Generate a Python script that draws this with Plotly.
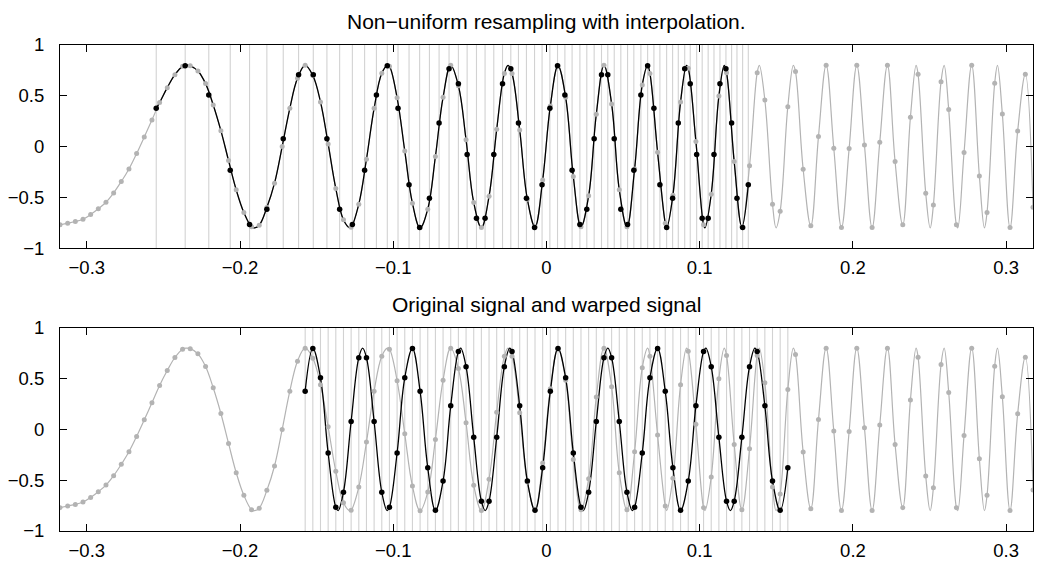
import plotly.graph_objects as go

# ---------------- data ----------------
amp = 0.8                      # peak amplitude of both signals

# original (gray) signal, uniformly sampled
gray_t_start = -0.3175
gray_t_step = 0.005
gray_vals = [
    -0.770, -0.754, -0.738, -0.715, -0.669, -0.613, -0.548, -0.456, -0.344, -0.220,
    -0.069, 0.095, 0.262, 0.433, 0.580, 0.708, 0.790, 0.795, 0.744, 0.620,
    0.410, 0.157, -0.138, -0.426, -0.649, -0.790, -0.775, -0.600, -0.360, 0.000,
    0.377, 0.672, 0.800, 0.700, 0.440, 0.026, -0.413, -0.721, -0.795, -0.567,
    -0.125, 0.377, 0.721, 0.790, 0.480, -0.043, -0.557, -0.800, -0.616, -0.098,
    0.485, 0.800, 0.600, 0.066, -0.550, -0.797, -0.490, 0.170, 0.720, 0.720,
    0.164, -0.518, -0.790, -0.330, 0.400, 0.795, 0.485, -0.295, -0.790, -0.485,
    0.318, 0.800, 0.420, -0.426, -0.790, -0.220, 0.607, 0.720, -0.056, -0.754,
    -0.480, 0.440, 0.770, 0.050, -0.770, -0.469, 0.498, 0.728, -0.148, -0.790,
    -0.190, 0.728, 0.459, -0.567, -0.636, 0.393, 0.738, -0.223, -0.780, 0.098,
    0.800, -0.016, -0.797, -0.020, 0.800, 0.016, -0.797, 0.043, 0.800, -0.148,
    -0.770, 0.289, 0.711, -0.459, -0.574, 0.639, 0.364, -0.770, -0.059, 0.800,
    -0.289, -0.649, 0.623, 0.321, -0.797, 0.154, 0.711, -0.597,
]
# positions of the maxima / minima of the gray curve
gray_peaks_t = [-0.2352, -0.1579, -0.1039, -0.0625, -0.0251, 0.0072, 0.0374, 0.0660,
                0.0914, 0.1160, 0.1389, 0.1611, 0.1824, 0.2025, 0.2225, 0.2412,
                0.2595, 0.2776, 0.2943, 0.3118]
gray_troughs_t = [-0.1905, -0.1285, -0.0828, -0.0429, -0.0081, 0.0226, 0.0522, 0.0784,
                  0.1034, 0.1280, 0.1498, 0.1720, 0.1922, 0.2125, 0.2323, 0.2504,
                  0.2684, 0.2858, 0.3026]

# non-uniform resampling instants (top panel vertical lines)
resample_t = [
    -0.2547, -0.2358, -0.2204, -0.2064, -0.1938, -0.1825, -0.1718, -0.1618, -0.1522, -0.1433,
    -0.1350, -0.1267, -0.1187, -0.1110, -0.1039, -0.0969, -0.0897, -0.0828, -0.0764, -0.0701,
    -0.0636, -0.0575, -0.0518, -0.0457, -0.0401, -0.0344, -0.0287, -0.0233, -0.0183, -0.0131,
    -0.0078, -0.0029, 0.0022, 0.0072, 0.0120, 0.0167, 0.0218, 0.0263, 0.0311, 0.0359,
    0.0400, 0.0442, 0.0485, 0.0529, 0.0570, 0.0616, 0.0660, 0.0701, 0.0740, 0.0784,
    0.0823, 0.0860, 0.0902, 0.0938, 0.0980, 0.1016, 0.1055, 0.1093, 0.1132, 0.1171,
    0.1208, 0.1243, 0.1280, 0.1317,
]
# resampled values (same values in both panels)
warped_vals = [
    0.377, 0.796, 0.508, -0.232, -0.766, -0.618, 0.078, 0.706, 0.706, 0.078,
    -0.618, -0.766, -0.232, 0.508, 0.796, 0.377, -0.377, -0.796, -0.508, 0.232,
    0.766, 0.618, -0.078, -0.706, -0.706, -0.078, 0.618, 0.766, 0.232, -0.508,
    -0.796, -0.377,
    0.377, 0.796, 0.508, -0.232, -0.766, -0.618, 0.078, 0.706, 0.706, 0.078,
    -0.618, -0.766, -0.232, 0.508, 0.796, 0.377, -0.377, -0.796, -0.508, 0.232,
    0.766, 0.618, -0.078, -0.706, -0.706, -0.078, 0.618, 0.766, 0.232, -0.508,
    -0.796, -0.377,
]
# warped signal (bottom panel) is uniformly placed
warped_t_start = -0.1575
warped_t_step = 0.005
warped_peaks_t = [-0.152, -0.120, -0.088, -0.056, -0.024, 0.008, 0.040, 0.072, 0.104, 0.136]
warped_troughs_t = [-0.136, -0.104, -0.072, -0.040, -0.008, 0.024, 0.056, 0.088, 0.120, 0.152]

titles = ["Non\u2212uniform resampling with interpolation.", "Original signal and warped signal"]
x_ticks = [-0.3, -0.2, -0.1, 0, 0.1, 0.2, 0.3]
x_ticktext = ["\u22120.3", "\u22120.2", "\u22120.1", "0", "0.1", "0.2", "0.3"]
y_ticks = [-1, -0.5, 0, 0.5, 1]
y_ticktext = ["\u22121", "\u22120.5", "0", "0.5", "1"]
x_range = [-0.3175, 0.3175]
y_range = [-1, 1]

# ---------------- styles ----------------
GRAY = "#b3b3b3"
VLINE = "#d2d2d2"
BLACK = "#000000"
FONT = "Liberation Sans, Arial, Helvetica, sans-serif"
FS_TICK = 18.5
FS_TITLE = 21


def merge(xs, ys, ext_x, ext_y, tol=0.0008):
    pts = list(zip(xs, ys))
    for ex, ey in zip(ext_x, ext_y):
        if min(abs(ex - x) for x in xs) > tol:
            pts.append((ex, ey))
    pts.sort()
    return [p[0] for p in pts], [p[1] for p in pts]


gray_t = [round(gray_t_start + i * gray_t_step, 5) for i in range(len(gray_vals))]
warped_t = [round(warped_t_start + i * warped_t_step, 5) for i in range(len(warped_vals))]

ext_gx = gray_peaks_t + gray_troughs_t
ext_gy = [amp] * len(gray_peaks_t) + [-amp] * len(gray_troughs_t)
gcx, gcy = merge(gray_t, gray_vals, ext_gx, ext_gy)

# top black (interpolated) curve: follows the original between first and last resample
t0, t1 = resample_t[0], resample_t[-1]
inner = [(x, y) for x, y in zip(gcx, gcy) if t0 + 0.0008 < x < t1 - 0.0008]
bcx = [t0] + [p[0] for p in inner] + [t1]
bcy = [warped_vals[0]] + [p[1] for p in inner] + [warped_vals[-1]]

ext_wx = warped_peaks_t + warped_troughs_t
ext_wy = [amp] * len(warped_peaks_t) + [-amp] * len(warped_troughs_t)
wcx, wcy = merge(warped_t, warped_vals, ext_wx, ext_wy)


def vlines(ts):
    xs, ys = [], []
    for t in ts:
        xs += [t, t, None]
        ys += [y_range[0], y_range[1], None]
    return xs, ys


fig = go.Figure()


def add_panel(row, line_t, black_curve, black_pts):
    xa = "x" if row == 1 else "x2"
    ya = "y" if row == 1 else "y2"
    vx, vy = vlines(line_t)
    fig.add_trace(go.Scatter(x=vx, y=vy, mode="lines", line=dict(color=VLINE, width=1.1),
                             xaxis=xa, yaxis=ya, hoverinfo="skip", showlegend=False))
    fig.add_trace(go.Scatter(x=gcx, y=gcy, mode="lines",
                             line=dict(color=GRAY, width=1.2, shape="spline", smoothing=1.1),
                             xaxis=xa, yaxis=ya, showlegend=False))
    fig.add_trace(go.Scatter(x=black_curve[0], y=black_curve[1], mode="lines",
                             line=dict(color=BLACK, width=1.3, shape="spline", smoothing=1.1),
                             xaxis=xa, yaxis=ya, showlegend=False))
    fig.add_trace(go.Scatter(x=gray_t, y=gray_vals, mode="markers", marker=dict(color=GRAY, size=5),
                             xaxis=xa, yaxis=ya, showlegend=False))
    fig.add_trace(go.Scatter(x=black_pts[0], y=black_pts[1], mode="markers",
                             marker=dict(color=BLACK, size=5.5),
                             xaxis=xa, yaxis=ya, showlegend=False))


add_panel(1, resample_t, (bcx, bcy), (resample_t, warped_vals))
add_panel(2, warped_t, (wcx, wcy), (warped_t, warped_vals))

axis_common = dict(showgrid=False, zeroline=False, showline=True, linecolor="black", linewidth=1,
                   mirror="ticks", ticks="inside", ticklen=7, tickcolor="black", tickwidth=1,
                   automargin=False,
                   tickfont=dict(family=FONT, size=FS_TICK, color="black"))

# the page body adds an 8px offset, so the figure is sized to fit the 1047x570 window
top_dom = [0.582, 1.0]
bot_dom = [0.0, 0.418]
fig.update_layout(
    width=1039, height=562,
    margin=dict(l=52, r=14, t=37, b=39, autoexpand=False),
    paper_bgcolor="white", plot_bgcolor="white",
    showlegend=False,
    xaxis=dict(domain=[0, 1], anchor="y", range=x_range, tickvals=x_ticks, ticktext=x_ticktext,
               ticklabelstandoff=3, **axis_common),
    yaxis=dict(domain=top_dom, anchor="x", range=y_range, tickvals=y_ticks, ticktext=y_ticktext,
               ticklabelstandoff=11, **axis_common),
    xaxis2=dict(domain=[0, 1], anchor="y2", range=x_range, tickvals=x_ticks, ticktext=x_ticktext,
                ticklabelstandoff=3, **axis_common),
    yaxis2=dict(domain=bot_dom, anchor="x2", range=y_range, tickvals=y_ticks, ticktext=y_ticktext,
                ticklabelstandoff=11, **axis_common),
)

for title, dom in zip(titles, [top_dom, bot_dom]):
    fig.add_annotation(text=title, xref="paper", yref="paper", x=0.5, y=dom[1],
                       xanchor="center", yanchor="bottom", yshift=10, showarrow=False,
                       font=dict(family=FONT, size=FS_TITLE, color="black"))

fig.write_html("out.html")
